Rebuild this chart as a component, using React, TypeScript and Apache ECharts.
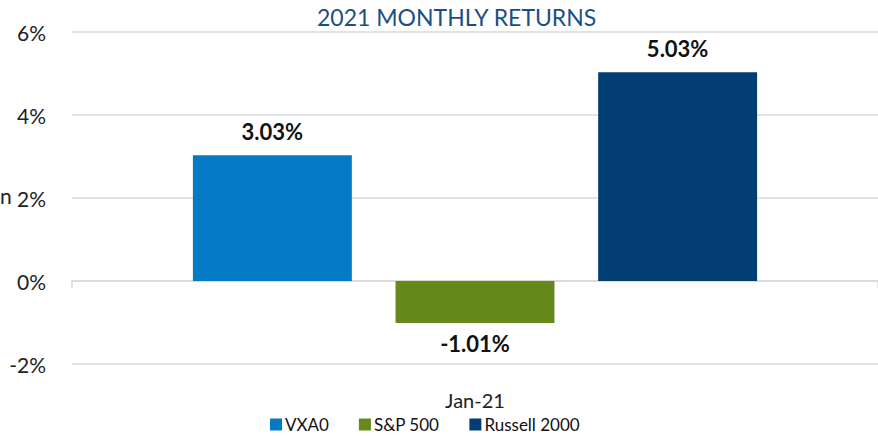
import React, { useEffect, useRef } from "react";
import * as echarts from "echarts";

const categories = ["Jan-21"];
const seriesNames = ["VXA0", "S&P 500", "Russell 2000"];
const vxa0 = [3.03];
const sp500 = [-1.01];
const russell2000 = [5.03];
const seriesColors = ["#0479C4", "#67891C", "#023D73"];
const yTicks = { min: -2, max: 6, interval: 2 };
const titleText = "2021 MONTHLY RETURNS";

const FONT = "Lato, 'Noto Sans', sans-serif";

export default function App() {
  const ref = useRef<HTMLDivElement>(null);
  useEffect(() => {
    if (!ref.current) return;
    const chart = echarts.init(ref.current, null, { renderer: "svg" });
    const values = [vxa0, sp500, russell2000];
    chart.setOption({
      animation: false,
      backgroundColor: "#ffffff",
      textStyle: { fontFamily: FONT },
      title: {
        text: titleText,
        left: 312,
        top: 0,
        textStyle: { color: "#1B4F86", fontSize: 23, fontWeight: "normal", fontFamily: FONT },
      },
      grid: { left: 72, right: 0, top: 32, bottom: 72, containLabel: false },
      legend: {
        data: seriesNames,
        bottom: -2,
        left: 265,
        itemWidth: 12,
        itemHeight: 12,
        itemGap: 30,
        icon: "rect",
        textStyle: { fontSize: 17, color: "#111", fontFamily: FONT, padding: [0, 0, 0, -2] },
      },
      xAxis: [
        {
          type: "category",
          data: categories,
          position: "bottom",
          axisLine: { show: false, onZero: false },
          axisTick: { show: false },
          axisLabel: { fontSize: 20, color: "#222", margin: 26, fontFamily: FONT },
        },
        {
          type: "category",
          data: categories,
          position: "bottom",
          axisLine: { show: true, onZero: true, lineStyle: { color: "#D9D9D9", width: 1.5 } },
          axisTick: { show: true, length: 7, lineStyle: { color: "#D9D9D9", width: 1.5 } },
          axisLabel: { show: false },
        },
      ],
      yAxis: {
        type: "value",
        min: yTicks.min,
        max: yTicks.max,
        interval: yTicks.interval,
        axisLine: { show: false },
        axisTick: { show: false },
        axisLabel: {
          formatter: "{value}%",
          fontSize: 21,
          color: "#222",
          margin: 26,
          fontFamily: FONT,
        },
        splitLine: { lineStyle: { color: "#D9D9D9", width: 1.5 } },
      },
      graphic: [
        {
          type: "text",
          left: 0,
          top: 185,
          style: { text: "n", fontSize: 21, fill: "#222", fontFamily: FONT },
        },
      ],
      series: seriesNames.map((name, i) => ({
        name,
        type: "bar",
        xAxisIndex: 0,
        data: values[i],
        barGap: "27.5%",
        barCategoryGap: "30%",
        itemStyle: { color: seriesColors[i] },
        label: {
          show: true,
          position: values[i][0] >= 0 ? "top" : "bottom",
          distance: values[i][0] >= 0 ? 13 : 10,
          formatter: (p: any) => p.value.toFixed(2) + "%",
          fontSize: 22,
          fontWeight: "bold",
          color: "#111",
          fontFamily: FONT,
        },
      })),
    });
    return () => chart.dispose();
  }, []);
  return (
    <div
      ref={ref}
      style={{ position: "fixed", left: 0, top: 0, width: 878, height: 436 }}
    />
  );
}
